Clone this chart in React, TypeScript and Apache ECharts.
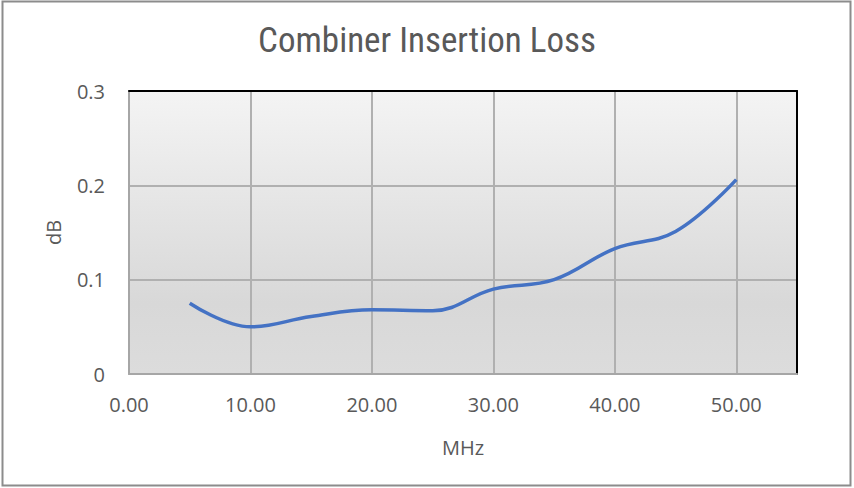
import React, { useEffect, useRef } from "react";
import * as echarts from "echarts";

const TITLE = "Combiner Insertion Loss";
const X_NAME = "MHz";
const Y_NAME = "dB";
const frequencies = [5, 10, 15, 20, 25, 30, 35, 40, 45, 50];
const lossDb = [0.075, 0.05, 0.061, 0.068, 0.067, 0.09, 0.1, 0.133, 0.151, 0.206];

export default function App() {
  const ref = useRef<HTMLDivElement>(null);
  useEffect(() => {
    document.body.style.margin = "0";
    const chart = echarts.init(ref.current!, null, { renderer: "svg" });
    const labelFont = "'Open Sans', 'Noto Sans', sans-serif";
    chart.setOption({
      animation: false,
      backgroundColor: "#ffffff",
      title: {
        text: TITLE,
        left: "center",
        top: 18,
        textStyle: {
          fontFamily: "'Liberation Sans Narrow', 'Roboto Condensed', 'Roboto', sans-serif",
          fontSize: 35,
          fontWeight: "normal",
          color: "#595959",
        },
      },
      graphic: [
        {
          type: "rect",
          shape: { x: 2.5, y: 1.5, width: 848, height: 484 },
          style: { fill: "none", stroke: "#8c8c8c", lineWidth: 2 },
          z: 100,
        },
      ],
      grid: {
        left: 129,
        right: 57,
        top: 91,
        bottom: 114,
        show: true,
        borderColor: "#000000",
        borderWidth: 0,
        backgroundColor: new echarts.graphic.LinearGradient(0, 0, 0, 1, [
          { offset: 0, color: "#f4f4f4" },
          { offset: 0.75, color: "#d8d8d8" },
          { offset: 1, color: "#dcdcdc" },
        ]),
      },
      xAxis: [
        {
          type: "value",
          min: 0,
          max: 55,
          interval: 10,
          name: X_NAME,
          nameLocation: "middle",
          nameGap: 63,
          nameTextStyle: { fontFamily: labelFont, fontSize: 20, color: "#595959" },
          axisLine: { show: true, lineStyle: { color: "#a6a6a6", width: 2 } },
          axisTick: { show: false },
          axisLabel: {
            fontFamily: labelFont,
            fontSize: 20,
            color: "#595959",
            margin: 20,
            formatter: (v: number) => v.toFixed(2),
            showMaxLabel: false,
          },
          splitLine: { show: true, lineStyle: { color: "#b0b0b0", width: 2 } },
        },
        {
          type: "value",
          position: "top",
          min: 0,
          max: 55,
          axisLine: { show: true, onZero: false, lineStyle: { color: "#000000", width: 2 } },
          axisTick: { show: false },
          axisLabel: { show: false },
          splitLine: { show: false },
        },
      ],
      yAxis: [
        {
          type: "value",
          min: 0,
          max: 0.3,
          interval: 0.1,
          name: Y_NAME,
          nameLocation: "middle",
          nameGap: 66,
          nameRotate: 90,
          nameTextStyle: { fontFamily: labelFont, fontSize: 20, color: "#595959" },
          axisLine: { show: true, lineStyle: { color: "#a6a6a6", width: 2 } },
          axisTick: { show: false },
          axisLabel: {
            fontFamily: labelFont,
            fontSize: 20,
            color: "#595959",
            margin: 24,
            formatter: (v: number) => (v === 0 ? "0" : v.toFixed(1)),
          },
          splitLine: { show: true, lineStyle: { color: "#b0b0b0", width: 2 } },
        },
        {
          type: "value",
          position: "right",
          min: 0,
          max: 0.3,
          axisLine: { show: true, onZero: false, lineStyle: { color: "#000000", width: 2 } },
          axisTick: { show: false },
          axisLabel: { show: false },
          splitLine: { show: false },
        },
      ],
      series: [
        {
          type: "line",
          data: frequencies.map((f, i) => [f, lossDb[i]]),
          smooth: 0.4,
          showSymbol: false,
          lineStyle: { color: "#4472c4", width: 3.5 },
          z: 5,
        },
      ],
    });
    return () => chart.dispose();
  }, []);
  return <div ref={ref} style={{ width: 854, height: 488 }} />;
}
